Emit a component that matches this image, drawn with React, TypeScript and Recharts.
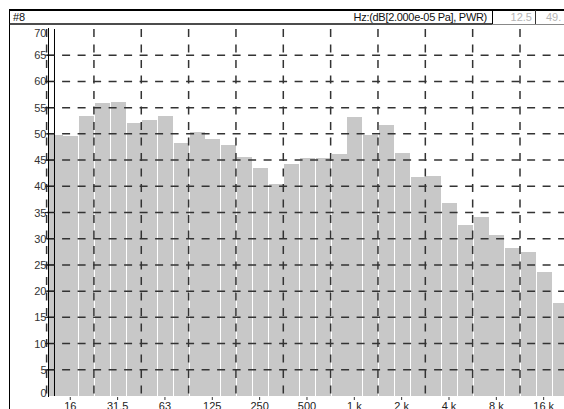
import React from "react";
import { BarChart, Bar, XAxis, YAxis, ReferenceLine } from "recharts";

// 1/3-octave band centre frequencies
const bands = [
  "12.5", "16", "20", "25", "31.5", "40", "50", "63", "80", "100", "125",
  "160", "200", "250", "315", "400", "500", "630", "800", "1k", "1.25k",
  "1.6k", "2k", "2.5k", "3.15k", "4k", "5k", "6.3k", "8k", "10k", "12.5k",
  "16k", "20k",
];
// Levels, dB re 2.000e-05 Pa
const levels = [
  49.8, 49.6, 53.4, 55.8, 56.0, 52.0, 52.7, 53.4, 48.2, 50.3, 49.0,
  47.9, 45.5, 43.4, 40.4, 44.3, 45.3, 45.3, 46.2, 53.2, 49.8,
  51.7, 46.4, 41.8, 42.0, 36.8, 32.6, 34.2, 30.7, 28.3, 27.5,
  23.6, 17.7,
];
const tickBands = ["16", "31.5", "63", "125", "250", "500", "1k", "2k", "4k", "8k", "16k"];
const tickTexts = ["16", "31.5", "63", "125", "250", "500", "1 k", "2 k", "4 k", "8 k", "16 k"];
const yTicks = [0, 5, 10, 15, 20, 25, 30, 35, 40, 45, 50, 55, 60, 65, 70];
const yGrid = [5, 10, 15, 20, 25, 30, 35, 40, 45, 50, 55, 60, 65];
const octaveEdges = [0, 3, 6, 9, 12, 15, 18, 21, 24, 27, 30];
const cursorBand = 0.5;
const headerTitle = "#8";
const headerUnits = "Hz:(dB[2.000e-05 Pa], PWR)";
const cursorFreq = "12.5";
const cursorLevel = "49.";

const data = bands.map((b, i) => ({ band: b, level: levels[i], idx: i + 0.5 }));

const FONT = '"Liberation Sans", Arial, sans-serif';
const GRID = "#333";

const BarShape = (p: any) => {
  const x0 = Math.round(p.x);
  const x1 = Math.round(p.x + p.width);
  const y0 = Math.round(p.y);
  const y1 = Math.round(p.y + p.height);
  return <rect x={x0 + 1} y={y0} width={Math.max(0, x1 - x0 - 1)} height={y1 - y0} fill="#c8c8c8" />;
};

const XTick = (p: any) => {
  const v = p.payload?.value;
  const i = tickBands.indexOf(v);
  if (i < 0) return null;
  const x = p.x;
  const y = p.y;
  return (
    <g>
      <line x1={x} x2={x} y1={y + 1} y2={y + 4} stroke="#333" strokeWidth={1} />
      <text x={x} y={y + 14} textAnchor="middle" fontSize={11} fontFamily={FONT} fill="#222">
        {tickTexts[i]}
      </text>
    </g>
  );
};

const YTick = (p: any) => {
  const v = p.payload?.value;
  const y = p.y;
  let base = y + 4;
  if (v === 70) base = y + 8;
  if (v === 0) base = y + 1;
  return (
    <g>
      {v !== 0 && v !== 70 ? (
        <line x1={45} x2={55} y1={y} y2={y} stroke="#222" strokeWidth={1} />
      ) : null}
      <text x={46.5} y={base} textAnchor="end" fontSize={11} fontFamily={FONT} fill="#333">
        {v}
      </text>
    </g>
  );
};

export default function App() {
  const W = 600;
  const H = 440;
  const left = 46.6;
  const right = 46.6 + 33 * 15.78;
  return (
    <div
      style={{
        position: "fixed",
        left: 0,
        top: 0,
        width: 564,
        height: 409,
        overflow: "hidden",
        background: "#fff",
      }}
    >
      <div style={{ position: "absolute", left: 0, top: 0 }}>
        <BarChart
          width={W}
          height={H}
          data={data}
          margin={{ top: 29, right: W - right, bottom: 14, left: 0 }}
          barCategoryGap={0}
          barGap={0}
        >
          <XAxis
            xAxisId="cat"
            dataKey="band"
            interval={0}
            ticks={tickBands}
            tick={<XTick />}
            tickLine={false}
            axisLine={false}
            tickSize={0}
            tickMargin={0}
            height={30}
          />
          <XAxis xAxisId="num" dataKey="idx" type="number" domain={[0, 33]} allowDataOverflow hide />
          <YAxis
            domain={[0, 70]}
            ticks={yTicks}
            interval={0}
            width={left}
            tick={<YTick />}
            tickLine={false}
            axisLine={false}
            tickSize={0}
            tickMargin={0}
          />
          <Bar xAxisId="cat" dataKey="level" fill="#c8c8c8" isAnimationActive={false} shape={<BarShape />} />
          {yGrid.map((v) => (
            <ReferenceLine
              key={"h" + v}
              xAxisId="num"
              segment={[{ x: 0, y: v }, { x: 33, y: v }]}
              stroke={GRID}
              strokeWidth={1.5}
              strokeDasharray="8 7.5"
            />
          ))}
          {octaveEdges.map((k) => (
            <ReferenceLine
              key={"v" + k}
              xAxisId="num"
              segment={[{ x: k, y: 70 }, { x: k, y: 0 }]}
              stroke={GRID}
              strokeWidth={1.5}
              strokeDasharray="8 7.5"
            />
          ))}
          <ReferenceLine
            xAxisId="num"
            segment={[{ x: cursorBand, y: 70 }, { x: cursorBand, y: 0 }]}
            stroke="#000"
            strokeWidth={1}
          />
        </BarChart>
      </div>
      <svg
        width={564}
        height={409}
        style={{ position: "absolute", left: 0, top: 0, pointerEvents: "none" }}
      >
        {/* frame */}
        <line x1={9} x2={564} y1={10} y2={10} stroke="#000" strokeWidth={2} />
        <line x1={9.5} x2={9.5} y1={9} y2={409} stroke="#000" strokeWidth={1} />
        <line x1={9} x2={492} y1={24} y2={24} stroke="#111" strokeWidth={1.5} />
        <line x1={492} x2={564} y1={24.5} y2={24.5} stroke="#888" strokeWidth={1} />
        <line x1={492.5} x2={492.5} y1={10} y2={24} stroke="#000" strokeWidth={1} />
        <line x1={535.5} x2={535.5} y1={10} y2={24} stroke="#333" strokeWidth={1} />
        {/* plot axis line */}
        <line x1={48.5} x2={48.5} y1={28} y2={397} stroke="#000" strokeWidth={1} />
        <text x={13} y={21} fontSize={11} fontFamily={FONT} fill="#111">
          {headerTitle}
        </text>
        <text x={487} y={21} textAnchor="end" fontSize={11} letterSpacing={-0.3} fontFamily={FONT} fill="#111">
          {headerUnits}
        </text>
        <text x={532} y={21} textAnchor="end" fontSize={11} fontFamily={FONT} fill="#b4b4b4">
          {cursorFreq}
        </text>
        <text x={546} y={21} fontSize={11} fontFamily={FONT} fill="#b4b4b4">
          {cursorLevel}
        </text>
      </svg>
    </div>
  );
}
